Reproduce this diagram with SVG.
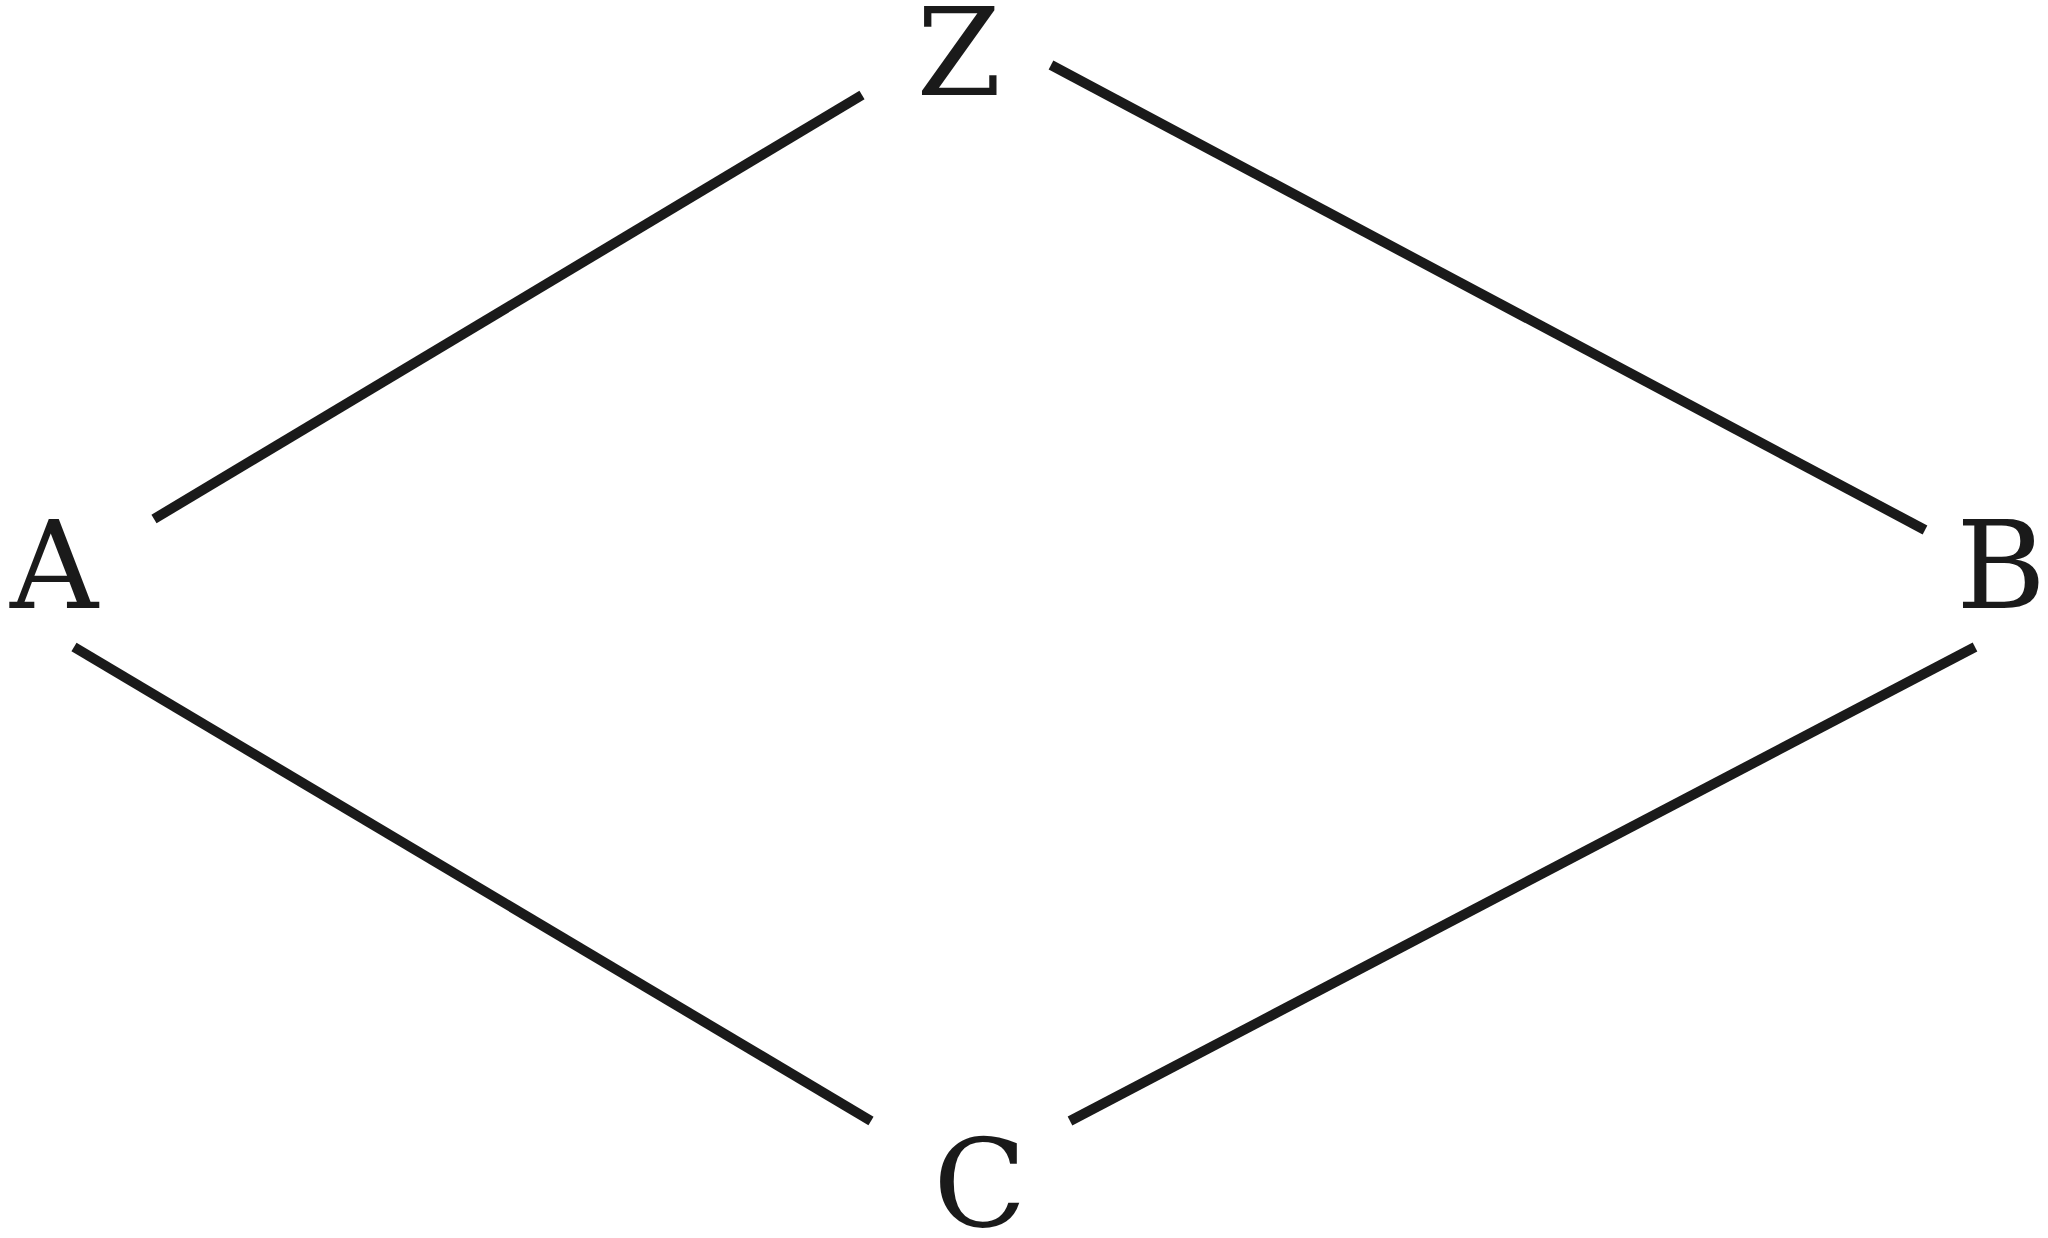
<svg xmlns="http://www.w3.org/2000/svg" width="2048" height="1238" viewBox="0 0 2048 1238">
<style>
.lbl{font-family:"DejaVu Serif","Liberation Serif",serif;font-size:122px;fill:#1a1a1a;text-anchor:middle}
.edge{stroke:#1a1a1a;stroke-width:10;fill:none}
</style>
<rect width="2048" height="1238" fill="#fff"/>
<g id="connectors">
<line class="edge" x1="154" y1="519" x2="862" y2="95"/>
<line class="edge" x1="1051" y1="65" x2="1925" y2="530"/>
<line class="edge" x1="74" y1="647" x2="871" y2="1121"/>
<line class="edge" x1="1070" y1="1121" x2="1975" y2="647"/>
</g>
<g id="node-Z"><text class="lbl" x="959" y="95">Z</text></g>
<g id="node-A"><text class="lbl" x="54" y="608">A</text></g>
<g id="node-B"><text class="lbl" x="2001" y="608">B</text></g>
<g id="node-C"><text class="lbl" x="980" y="1226">C</text></g>
</svg>
